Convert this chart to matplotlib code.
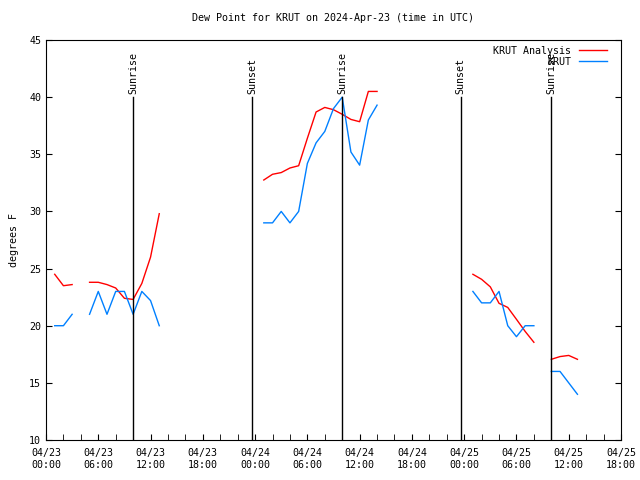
import numpy as np
import matplotlib
matplotlib.use("Agg")
import matplotlib.pyplot as plt
from datetime import datetime, timedelta

nan = np.nan
start = datetime(2024, 4, 23, 0, 0)
hours = list(range(1, 62))

analysis = {
    1: 24.5, 2: 23.5, 3: 23.6,
    5: 23.8, 6: 23.8, 7: 23.6, 8: 23.3, 9: 22.4, 10: 22.3, 11: 23.7, 12: 26.0, 13: 29.8,
    25: 32.75, 26: 33.25, 27: 33.4, 28: 33.8, 29: 34.0, 30: 36.4, 31: 38.7, 32: 39.1,
    33: 38.9, 34: 38.5, 35: 38.05, 36: 37.85, 37: 40.5, 38: 40.5,
    49: 24.5, 50: 24.06, 51: 23.4, 52: 21.96, 53: 21.6, 54: 20.56, 55: 19.5, 56: 18.55,
    58: 17.06, 59: 17.3, 60: 17.4, 61: 17.06,
}
observed = {
    1: 20.0, 2: 20.0, 3: 21.0,
    5: 21.0, 6: 23.0, 7: 21.0, 8: 23.0, 9: 23.0, 10: 21.0, 11: 23.0, 12: 22.2, 13: 20.0,
    25: 29.0, 26: 29.0, 27: 30.0, 28: 29.0, 29: 30.0, 30: 34.2, 31: 36.0, 32: 37.0,
    33: 39.0, 34: 40.0, 35: 35.2, 36: 34.05, 37: 38.0, 38: 39.3,
    49: 23.0, 50: 22.0, 51: 22.0, 52: 23.0, 53: 20.0, 54: 19.04, 55: 20.0, 56: 20.0,
    58: 16.0, 59: 16.0, 60: 15.0, 61: 14.0,
}
times = [start + timedelta(hours=h) for h in hours]
an_vals = [analysis.get(h, nan) for h in hours]
ob_vals = [observed.get(h, nan) for h in hours]

events = ["Sunrise", "Sunset", "Sunrise", "Sunset", "Sunrise"]
event_hours = [10.0, 23.65, 34.0, 47.6, 58.0]

tick_labels = ["04/23\n00:00", "04/23\n06:00", "04/23\n12:00", "04/23\n18:00",
               "04/24\n00:00", "04/24\n06:00", "04/24\n12:00", "04/24\n18:00",
               "04/25\n00:00", "04/25\n06:00", "04/25\n12:00", "04/25\n18:00"]

font = "DejaVu Sans Mono"
plt.rcParams['font.family'] = font
plt.rcParams['font.size'] = 7.2

fig = plt.figure(figsize=(6.4, 4.8), dpi=100)
ax = fig.add_axes([46/640, 1-440/480, (621-46)/640, 400/480])

ax.plot(times, an_vals, color="#ff0000", lw=1, label="KRUT Analysis")
ax.plot(times, ob_vals, color="#0080ff", lw=1, label="KRUT")

for name, eh in zip(events, event_hours):
    t = start + timedelta(hours=eh)
    ax.plot([t, t], [10, 40], color="black", lw=1)
    ax.text(t, 40.3, name, rotation=90, ha="center", va="bottom", fontsize=7.2)

ax.set_xlim(start, start + timedelta(hours=66))
ax.set_ylim(10, 45)
ax.set_yticks(range(10, 46, 5))
major = [start + timedelta(hours=6*i) for i in range(12)]
ax.set_xticks(major)
ax.set_xticklabels(tick_labels)
minor = [start + timedelta(hours=2*i) for i in range(34)]
ax.set_xticks(minor, minor=True)
ax.tick_params(axis="x", which="both", direction="in", length=4, pad=6)
ax.tick_params(axis="y", direction="in", length=4, right=True)
ax.set_ylabel("degrees F", labelpad=7)
ax.set_title("Dew Point for KRUT on 2024-Apr-23 (time in UTC)", fontsize=7.2, pad=14)

ax.legend(loc="upper right", bbox_to_anchor=(1 - 8/575, 1), frameon=False,
          markerfirst=False, handlelength=2.8, borderaxespad=0.2, labelspacing=0.1,
          fontsize=7.2, handletextpad=0.8)

fig.savefig("out.png", dpi=100)
